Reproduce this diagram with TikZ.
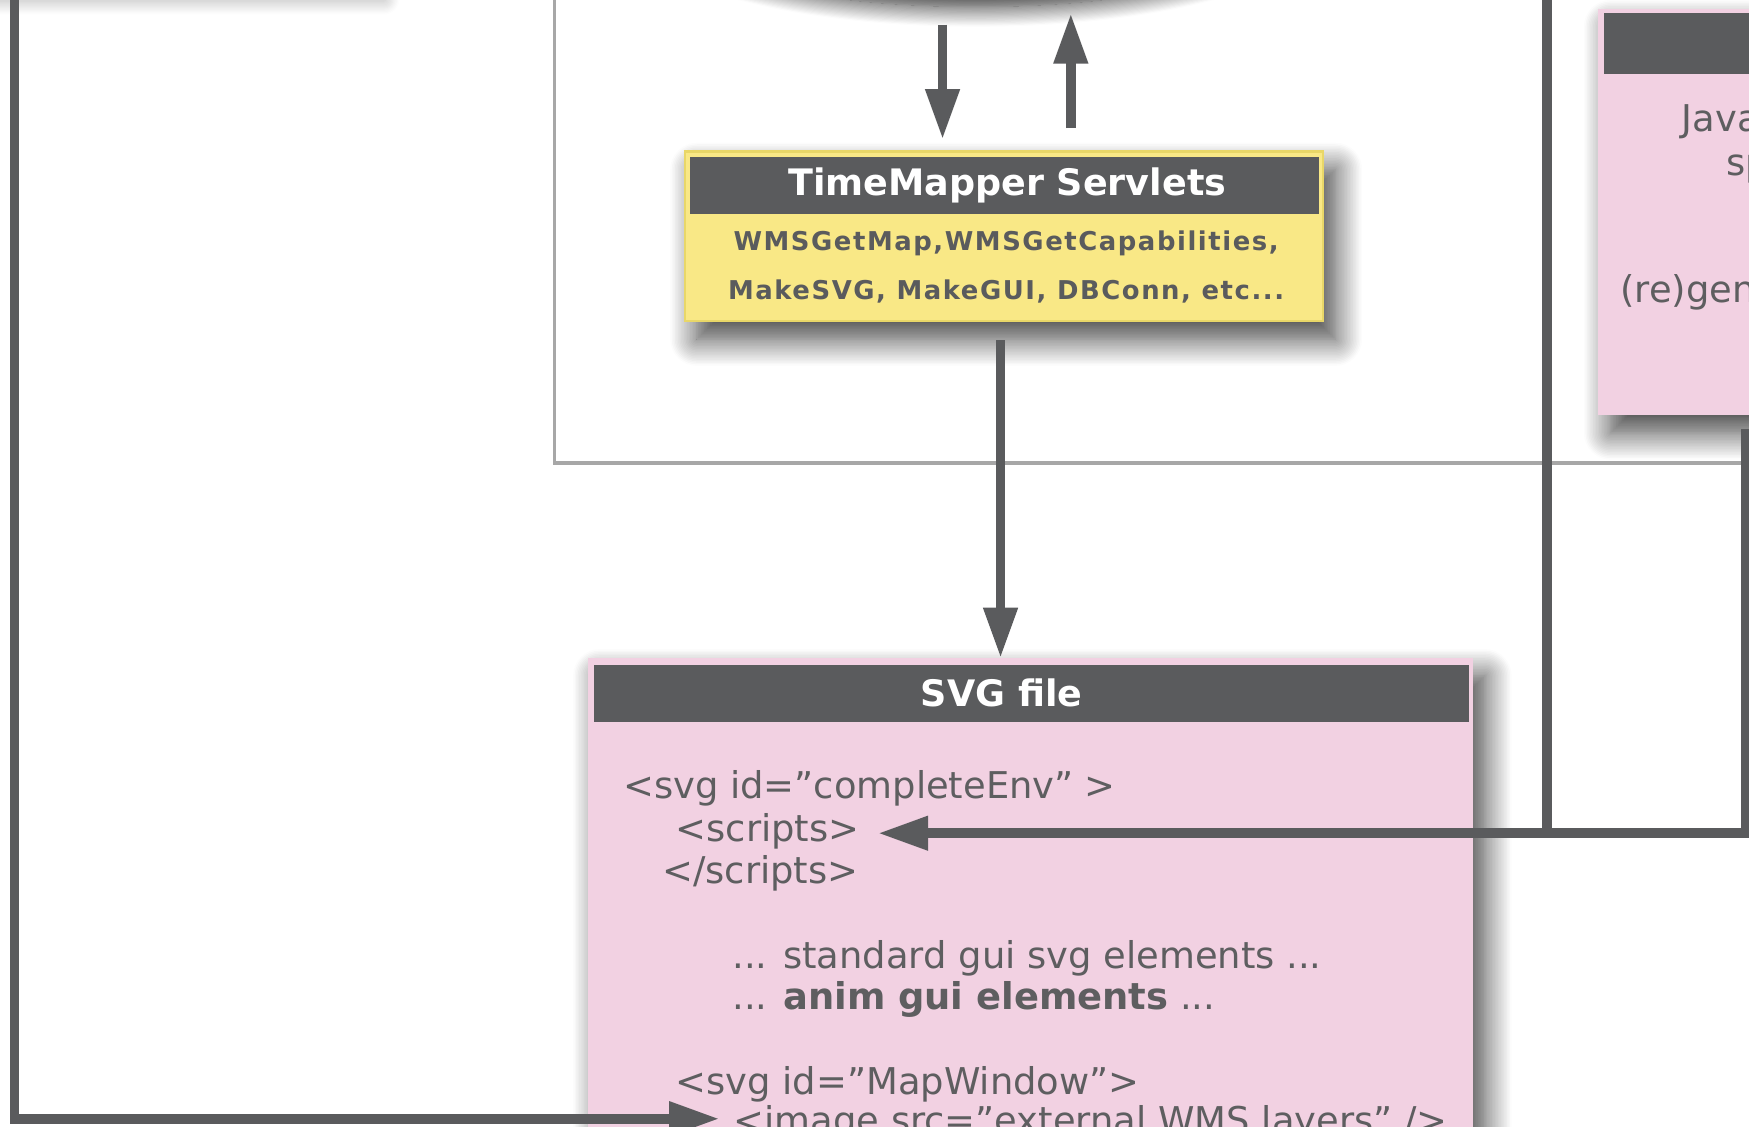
\documentclass[tikz,border=0pt]{standalone}
\usepackage{fontspec}
\setmainfont{DejaVu Sans}
\newfontfamily\trackedfont[LetterSpace=6]{DejaVu Sans}
\usetikzlibrary{arrows.meta,shapes.geometric,shadows.blur}

\definecolor{barGray}{HTML}{5A5B5D}
\definecolor{servletYellow}{HTML}{F9E886}
\definecolor{servletEdge}{HTML}{E9D768}
\definecolor{svgPink}{HTML}{F2D1E2}
\definecolor{outlineGray}{HTML}{A7A7A7}
\definecolor{codeGray}{HTML}{5E5E60}

\begin{document}
\begin{tikzpicture}[x=0.01cm, y=-0.01cm,
    panel/.style={inner sep=0pt, outer sep=0pt},
    softshadow/.style={blur shadow={shadow xshift=0.11cm, shadow yshift=-0.16cm,
        shadow blur radius=0.24cm, shadow blur steps=18, shadow opacity=75}},
    servletbox/.style={panel, softshadow, fill=servletYellow, draw=servletEdge,
        line width=0.6pt, minimum width=5.72cm, minimum height=1.52cm},
    filebox/.style={panel, softshadow, fill=svgPink,
        minimum width=7.93cm, minimum height=4.9cm},
    genbox/.style={panel, softshadow, fill=svgPink,
        minimum width=2.67cm, minimum height=3.64cm},
    headbar/.style={panel, fill=barGray},
    headtext/.style={inner sep=0pt, text=white,
        font=\fontsize{9.3}{11}\selectfont\bfseries},
    servletnote/.style={inner sep=0pt, align=center, text=barGray,
        font=\trackedfont\fontsize{6.6}{12.5}\selectfont\bfseries},
    code/.style={inner sep=0pt, anchor=base west, text=codeGray,
        font=\fontsize{9.4}{11}\selectfont},
    outline/.style={draw=outlineGray, line width=0.03cm},
    feed/.style={draw=barGray, line width=0.085cm},
    arrow/.style={feed, -{Triangle[length=0.45cm, width=0.29cm]}}
]
    \useasboundingbox (0,0) rectangle (1568,1010);
    \clip (0,0) rectangle (1568,1010);

    % servlet container frame
    \draw[outline] (497,-20) |- (1600,415);

    % boxes sitting above the top edge
    \node[panel, fill=white, minimum width=4.2cm, minimum height=1cm,
        blur shadow={shadow xshift=0.04cm, shadow yshift=-0.07cm,
        shadow blur radius=0.14cm, shadow blur steps=14, shadow opacity=35}]
        (topbox) at (130,-58) {};
    \node[panel, ellipse, fill=white, minimum width=5.9cm, minimum height=1.6cm,
        blur shadow={shadow xshift=0cm, shadow yshift=-0.12cm,
        shadow blur radius=0.18cm, shadow blur steps=18, shadow opacity=85}]
        (db) at (875,-86) {};

    % TimeMapper servlets
    \node[servletbox] (servlets) at (900,212) {};
    \node[headbar, minimum width=5.63cm, minimum height=0.51cm]
        (servlets_head) at (900.5,166.5) {};
    \node[headtext] (servlets_title) at (903,166) {TimeMapper Servlets};
    \node[servletnote] (servlets_body) at (902,239)
        {WMSGetMap,WMSGetCapabilities,\\MakeSVG, MakeGUI, DBConn, etc...};

    % script generator (right)
    \node[genbox] (scriptgen) at (1566.5,190) {};
    \node[headbar, minimum width=2.62cm, minimum height=0.54cm]
        (scriptgen_head) at (1569,39) {};
    \node[code] (gen_a) at (1507,118) {Java};
    \node[code] (gen_b) at (1547,157) {sp};
    \node[code] (gen_c) at (1452,271) {(re)gen};

    % generated svg file
    \node[filebox] (svgfile) at (923.5,835) {};
    \node[headbar, minimum width=7.84cm, minimum height=0.51cm]
        (svgfile_head) at (925,621.5) {};
    \node[headtext] (svgfile_title) at (898,621) {SVG file};
    \node[code] (svg_open) at (558,716) {<svg id=”completeEnv” >};
    \node[code] (scripts_open) at (605,754) {<scripts>};
    \node[code] (scripts_close) at (593,792) {</scripts>};
    \node[code] (gui_std) at (656,868) {... standard gui svg elements ...};
    \node[code] (gui_anim) at (656,905) {... \textbf{anim gui elements} ...};
    \node[code] (map_open) at (605,981) {<svg id=”MapWindow”>};
    \node[code] (image_tag) at (657,1016) {<image src=”external WMS layers” />};

    % connectors
    \coordinate (db_out) at (845,22);
    \coordinate (db_in) at (960,12);
    \coordinate (servlets_out) at (897,305);
    \draw[arrow, shorten >=0.11cm] (db_out) -- (db_out |- servlets.north);
    \draw[arrow, shorten <=0.21cm] (db_in |- servlets.north) -- (db_in);
    \draw[arrow] (servlets_out) -- (servlets_out |- svgfile.north);

    \coordinate (feed_left) at (13,-10);
    \coordinate (feed_corner) at (13,1003);
    \draw[arrow, shorten >=0.12cm] (feed_left) -- (feed_corner)
        -- (feed_corner -| image_tag.west);

    \coordinate (gen_out) at (1565,385);
    \coordinate (gen_corner) at (1565,747);
    \coordinate (feed_right) at (1387,-10);
    \draw[feed] (feed_right) -- (feed_right |- gen_corner);
    \draw[arrow, shorten >=0.16cm] (gen_out) -- (gen_corner)
        -- (gen_corner -| scripts_open.east);
\end{tikzpicture}
\end{document}
